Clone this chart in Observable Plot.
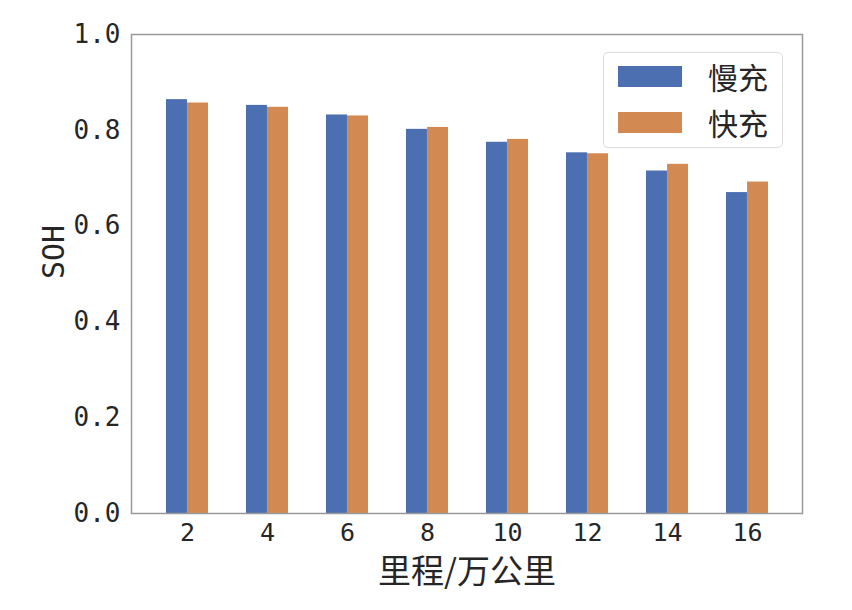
<!DOCTYPE html>
<html>
<head>
<meta charset="utf-8">
<script src="https://cdn.jsdelivr.net/npm/d3@7"></script>
<script src="https://cdn.jsdelivr.net/npm/@observablehq/plot@0.6"></script>
<style>
  html, body { margin: 0; padding: 0; background: #fff; }
  #wrap { position: relative; width: 852px; height: 610px; }
  #legend {
    position: absolute; left: 603px; top: 52px; width: 178px; height: 94px;
    border: 1px solid #dcdcdc; border-radius: 5px; background: rgba(255,255,255,0.85);
    font-family: "Noto Sans CJK SC", sans-serif; font-size: 30px; color: #262626;
  }
  .sw { position: absolute; left: 14px; width: 64px; height: 21px; }
  .lab { position: absolute; left: 104px; line-height: 1; white-space: nowrap; }
</style>
</head>
<body>
<div id="wrap"><div id="legend"></div></div>
<script>
const categories = ["2", "4", "6", "8", "10", "12", "14", "16"];
const slowCharge = [0.864, 0.852, 0.832, 0.802, 0.775, 0.753, 0.715, 0.670];
const fastCharge = [0.857, 0.848, 0.830, 0.806, 0.781, 0.751, 0.729, 0.692];
const seriesNames = ["慢充", "快充"];
const seriesColors = ["#4C6FB2", "#D38A52"];
const yTicks = [0, 0.2, 0.4, 0.6, 0.8, 1.0];

const W = 852, H = 610, mL = 131, mR = 50, mT = 34, mB = 97;
const padIn = 0.48, padOut = 0.385;
const step = (W - mL - mR) / (categories.length - padIn + 2 * padOut);
const half = (1 - padIn) * step / 2;

const slowData = categories.map((c, i) => ({cat: c, v: slowCharge[i]}));
const fastData = categories.map((c, i) => ({cat: c, v: fastCharge[i]}));

const chart = Plot.plot({
  width: W, height: H,
  marginLeft: mL, marginRight: mR, marginTop: mT, marginBottom: mB,
  style: {fontFamily: "'DejaVu Sans Mono', monospace", color: "#262626", background: "white"},
  x: {type: "band", domain: categories, paddingInner: padIn, paddingOuter: padOut},
  y: {domain: [0, 1]},
  marks: [
    Plot.barY(slowData, {x: "cat", y: "v", fill: seriesColors[0], insetRight: half, insetLeft: 0}),
    Plot.barY(fastData, {x: "cat", y: "v", fill: seriesColors[1], insetLeft: half, insetRight: 0}),
    Plot.axisX({tickSize: 0, tickPadding: 10, fontSize: 25, label: null}),
    Plot.axisY({ticks: yTicks, tickFormat: d3.format(".1f"), tickSize: 0, tickPadding: 11, fontSize: 26, label: null}),
    Plot.frame({stroke: "#999", strokeWidth: 1.5}),
    Plot.text(["里程/万公里"], {frameAnchor: "bottom", dy: 69, fontSize: 33, fontFamily: "Noto Sans CJK SC", fill: "#262626"}),
    Plot.text(["SOH"], {frameAnchor: "left", dx: -77, dy: 5, rotate: -90, fontSize: 30, fill: "#262626"})
  ]
});
document.getElementById("wrap").prepend(chart);

const legend = document.getElementById("legend");
seriesNames.forEach((name, i) => {
  const sw = document.createElement("div");
  sw.className = "sw";
  sw.style.top = (13 + i * 46) + "px";
  sw.style.background = seriesColors[i];
  legend.appendChild(sw);
  const lab = document.createElement("div");
  lab.className = "lab";
  lab.style.top = (8 + i * 46) + "px";
  lab.textContent = name;
  legend.appendChild(lab);
});
</script>
</body>
</html>
